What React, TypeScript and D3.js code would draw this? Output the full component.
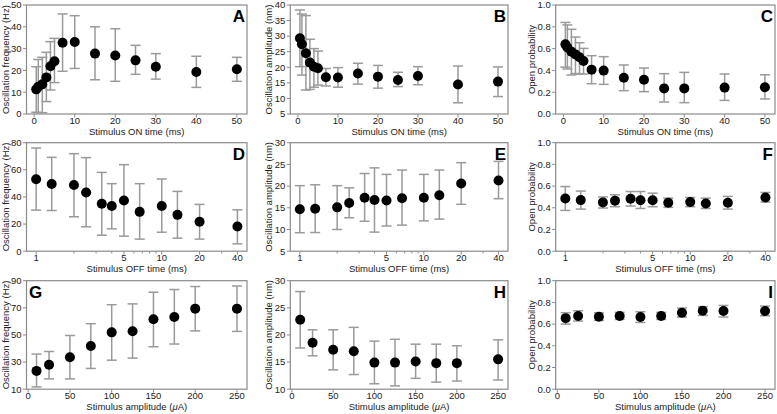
import React from "react";
import * as d3 from "d3";

// ---------- DATA ----------
const onTimes = [0.5, 1, 2, 3, 4, 5, 7, 10, 15, 20, 25, 30, 40, 50];
const freqOnMean = [11.3, 12.5, 13.6, 16.8, 21.9, 24.2, 32.7, 33, 27.7, 26.8, 24.6, 21.7, 19.3, 20.5];
const freqOnHi = [21.7, 25, 26, 28.3, 33.2, 34.7, 45.9, 45.1, 40, 39.1, 31.5, 27.7, 26.5, 26];
const freqOnLo = [0.8, 0.6, 0.6, 5.7, 11, 14.4, 19.6, 20.9, 15.7, 15, 18.2, 16, 12.2, 15];

const ampOnMean = [29.3, 27.4, 24.5, 21.5, 20.2, 19.7, 16.8, 16.7, 18, 17, 15.9, 17.2, 14.5, 15.4];
const ampOnHi = [38.4, 37.1, 36.6, 29, 26, 25.2, 19.6, 19.9, 21.3, 20.6, 18.4, 20.2, 20.4, 20.1];
const ampOnLo = [20.2, 17.5, 12.7, 12.9, 13.6, 14.3, 14, 13.6, 14.6, 13.3, 13.8, 14.4, 8.6, 10.6];

const poOnMean = [0.639, 0.61, 0.572, 0.547, 0.52, 0.486, 0.407, 0.398, 0.333, 0.315, 0.235, 0.235, 0.242, 0.245];
const poOnHi = [0.84, 0.817, 0.777, 0.706, 0.654, 0.602, 0.535, 0.526, 0.45, 0.422, 0.37, 0.382, 0.367, 0.36];
const poOnLo = [0.43, 0.413, 0.358, 0.371, 0.367, 0.367, 0.278, 0.272, 0.214, 0.205, 0.11, 0.104, 0.125, 0.138];

const offTimes = [1, 1.33, 2, 2.5, 3.33, 4, 5, 6.67, 10, 13.33, 20, 40];
const freqOffMean = [53, 49.5, 48.8, 43.3, 35, 33.3, 37.4, 29, 33.3, 26.8, 21.7, 18.2];
const freqOffHi = [76.1, 69.2, 71.9, 69, 58.1, 49.8, 63.8, 49.8, 53.2, 44.1, 34.5, 30.5];
const freqOffLo = [30.3, 30, 25.4, 18, 11.8, 16.5, 11.1, 8.9, 14, 9.6, 8.9, 5.4];

const ampOffMean = [14.67, 14.8, 15.1, 16.1, 17.3, 16.8, 16.7, 17.2, 17.3, 17.9, 20.6, 21.3];
const ampOffHi = [20.1, 20.3, 20.1, 19.6, 22.9, 24.2, 22.7, 23.7, 22.7, 23.7, 25.4, 25.7];
const ampOffLo = [9.26, 9.3, 10, 12.7, 11.9, 9.4, 10.8, 11, 12, 12.4, 15.8, 17.1];

const poOffMean = [0.486, 0.471, 0.45, 0.466, 0.483, 0.47, 0.47, 0.446, 0.453, 0.44, 0.446, 0.495];
const poOffHi = [0.596, 0.554, 0.5, 0.52, 0.55, 0.55, 0.535, 0.489, 0.495, 0.489, 0.505, 0.541];
const poOffLo = [0.376, 0.388, 0.398, 0.41, 0.416, 0.394, 0.41, 0.404, 0.41, 0.394, 0.388, 0.453];

const amps = [10, 25, 50, 75, 100, 125, 150, 175, 200, 250];
const freqAmpMean = [23.5, 28, 33.6, 41.8, 51.9, 52.7, 61.6, 63.3, 69.4, 69.4];
const freqAmpHi = [35.9, 37.8, 49.6, 58.3, 72.3, 72.9, 81.5, 83.5, 85.7, 86.1];
const freqAmpLo = [11.7, 17.6, 17.6, 25.3, 31.4, 32.9, 41.3, 43.3, 53, 52.6];

const ampAmpMean = [22.8, 18.55, 17.26, 17, 14.9, 14.9, 15.1, 14.8, 14.8, 15.5];
const ampAmpHi = [28, 20.95, 20.95, 21.4, 18.86, 19.2, 18.3, 18.3, 18, 19.1];
const ampAmpLo = [17.6, 16.15, 13.57, 12.7, 11, 10.6, 12, 11.3, 11.5, 11.7];

const poAmpMean = [0.655, 0.674, 0.668, 0.674, 0.665, 0.674, 0.705, 0.723, 0.72, 0.72];
const poAmpHi = [0.705, 0.723, 0.705, 0.708, 0.714, 0.708, 0.748, 0.76, 0.772, 0.766];
const poAmpLo = [0.6, 0.628, 0.634, 0.643, 0.615, 0.643, 0.665, 0.68, 0.665, 0.677];

const onTicks = [0, 10, 20, 30, 40, 50];
const offTickLabels = [1, 5, 10, 20, 40];
const offMinorTicks = [2, 3, 4, 6, 7, 8, 9, 30];
const ampTicks = [0, 50, 100, 150, 200, 250];

const freqTitle = "Oscillation frequency (Hz)";
const ampTitle = "Oscillation amplitude (nm)";
const poTitle = "Open probability";

// ---------- LAYOUT ----------
const FONT = "'Liberation Sans', Arial, Helvetica, sans-serif";
const cols = [
  { left: 26.5, width: 220.5, titleX: 8.5 },
  { left: 290.3, width: 217.7, titleX: 272 },
  { left: 555.7, width: 219.3, titleX: 534.5 },
];
const rows = [
  { top: 5, height: 109 },
  { top: 142.7, height: 108.5 },
  { top: 280.7, height: 108.5 },
];

type XKind = "on" | "off" | "amp";

interface PanelDef {
  letter: string;
  letterLeft?: boolean;
  col: number;
  row: number;
  xKind: XKind;
  xs: number[];
  mean: number[];
  hi: number[];
  lo: number[];
  yDomain: [number, number];
  yTicks: number[];
  yFmt: (v: number) => string;
  yTitle: string;
}

const intFmt = (v: number) => String(v);
const decFmt = d3.format(".1f");

const panels: PanelDef[] = [
  { letter: "A", col: 0, row: 0, xKind: "on", xs: onTimes, mean: freqOnMean, hi: freqOnHi, lo: freqOnLo, yDomain: [0, 50], yTicks: d3.range(0, 51, 10), yFmt: intFmt, yTitle: freqTitle },
  { letter: "B", col: 1, row: 0, xKind: "on", xs: onTimes, mean: ampOnMean, hi: ampOnHi, lo: ampOnLo, yDomain: [5, 40], yTicks: d3.range(5, 41, 5), yFmt: intFmt, yTitle: ampTitle },
  { letter: "C", col: 2, row: 0, xKind: "on", xs: onTimes, mean: poOnMean, hi: poOnHi, lo: poOnLo, yDomain: [0, 1], yTicks: [0, 0.2, 0.4, 0.6, 0.8, 1], yFmt: decFmt, yTitle: poTitle },
  { letter: "D", col: 0, row: 1, xKind: "off", xs: offTimes, mean: freqOffMean, hi: freqOffHi, lo: freqOffLo, yDomain: [0, 80], yTicks: d3.range(0, 81, 20), yFmt: intFmt, yTitle: freqTitle },
  { letter: "E", col: 1, row: 1, xKind: "off", xs: offTimes, mean: ampOffMean, hi: ampOffHi, lo: ampOffLo, yDomain: [5, 30], yTicks: d3.range(5, 31, 5), yFmt: intFmt, yTitle: ampTitle },
  { letter: "F", col: 2, row: 1, xKind: "off", xs: offTimes, mean: poOffMean, hi: poOffHi, lo: poOffLo, yDomain: [0, 1], yTicks: [0, 0.2, 0.4, 0.6, 0.8, 1], yFmt: decFmt, yTitle: poTitle },
  { letter: "G", letterLeft: true, col: 0, row: 2, xKind: "amp", xs: amps, mean: freqAmpMean, hi: freqAmpHi, lo: freqAmpLo, yDomain: [10, 90], yTicks: d3.range(10, 91, 20), yFmt: intFmt, yTitle: freqTitle },
  { letter: "H", col: 1, row: 2, xKind: "amp", xs: amps, mean: ampAmpMean, hi: ampAmpHi, lo: ampAmpLo, yDomain: [10, 30], yTicks: d3.range(10, 31, 5), yFmt: intFmt, yTitle: ampTitle },
  { letter: "I", col: 2, row: 2, xKind: "amp", xs: amps, mean: poAmpMean, hi: poAmpHi, lo: poAmpLo, yDomain: [0, 1], yTicks: [0, 0.2, 0.4, 0.6, 0.8, 1], yFmt: decFmt, yTitle: poTitle },
];

const FRAME = "#8a8a8a";
const ERR = "#9a9a9a";
const TXT = "#222";

function Panel({ p }: { p: PanelDef }) {
  const c = cols[p.col];
  const r = rows[p.row];
  const x0 = c.left, x1 = c.left + c.width;
  const y0 = r.top + r.height, y1 = r.top;

  let x: (v: number) => number;
  let majorTicks: number[];
  let minorTicks: number[] = [];
  let xTitle: React.ReactNode;
  if (p.xKind === "on") {
    x = d3.scaleLinear().domain([-1.9, 52.5]).range([x0, x1]);
    majorTicks = onTicks;
    xTitle = "Stimulus ON time (ms)";
  } else if (p.xKind === "off") {
    x = d3.scaleLog().domain([0.838, 47.7]).range([x0, x1]);
    majorTicks = offTickLabels;
    minorTicks = offMinorTicks;
    xTitle = "Stimulus OFF time (ms)";
  } else {
    x = d3.scaleLinear().domain([-2, 262]).range([x0, x1]);
    majorTicks = ampTicks;
    xTitle = (
      <>
        Stimulus amplitude (<tspan fontStyle="italic">μ</tspan>A)
      </>
    );
  }
  const y = d3.scaleLinear().domain(p.yDomain).range([y0, y1]);
  const cy = (y0 + y1) / 2;
  const cx = (x0 + x1) / 2;

  return (
    <g>
      {/* y ticks */}
      {p.yTicks.map((t) => (
        <g key={"y" + t}>
          <line x1={x0 - 3.5} x2={x0} y1={y(t)} y2={y(t)} stroke={FRAME} strokeWidth={1} />
          <text x={x0 - 5} y={y(t)} dy="0.35em" textAnchor="end" fontSize={9.5} fill={TXT} fontFamily={FONT}>
            {p.yFmt(t)}
          </text>
        </g>
      ))}
      {/* x ticks */}
      {majorTicks.map((t) => (
        <g key={"x" + t}>
          <line x1={x(t)} x2={x(t)} y1={y0} y2={y0 + 3.5} stroke={FRAME} strokeWidth={1} />
          <text x={x(t)} y={y0 + 10} textAnchor="middle" fontSize={9.5} fill={TXT} fontFamily={FONT}>
            {t}
          </text>
        </g>
      ))}
      {minorTicks.map((t) => (
        <line key={"m" + t} x1={x(t)} x2={x(t)} y1={y0} y2={y0 + 2.2} stroke={FRAME} strokeWidth={1} />
      ))}
      {/* frame */}
      <rect x={x0} y={y1} width={x1 - x0} height={y0 - y1} fill="none" stroke={FRAME} strokeWidth={1.2} />
      {/* titles */}
      <text x={cx} y={y0 + 21} textAnchor="middle" fontSize={9.5} fill={TXT} fontFamily={FONT}>
        {xTitle}
      </text>
      <text
        transform={`translate(${c.titleX},${cy}) rotate(-90)`}
        textAnchor="middle"
        fontSize={9.5}
        fill={TXT}
        fontFamily={FONT}
      >
        {p.yTitle}
      </text>
      {/* error bars */}
      {p.xs.map((xv, i) => {
        const px = x(xv);
        return (
          <g key={"e" + i} stroke={ERR} strokeWidth={1.5} fill="none">
            <line x1={px} x2={px} y1={y(p.hi[i])} y2={y(p.lo[i])} />
            <line x1={px - 5} x2={px + 5} y1={y(p.hi[i])} y2={y(p.hi[i])} />
            <line x1={px - 5} x2={px + 5} y1={y(p.lo[i])} y2={y(p.lo[i])} />
          </g>
        );
      })}
      {/* points */}
      {p.xs.map((xv, i) => (
        <circle key={"c" + i} cx={x(xv)} cy={y(p.mean[i])} r={5} fill="#000" />
      ))}
      {/* panel letter */}
      <text
        x={p.letterLeft ? x0 + 2.5 : x1 - 2}
        y={y1 + 17}
        textAnchor={p.letterLeft ? "start" : "end"}
        fontSize={17}
        fontWeight="bold"
        fill="#000"
        fontFamily={FONT}
      >
        {p.letter}
      </text>
    </g>
  );
}

export default function App() {
  return (
    <svg
      width={777}
      height={414}
      viewBox="0 0 777 414"
      style={{ position: "absolute", left: 0, top: 0, background: "#fff" }}
    >
      <rect x={0} y={0} width={777} height={414} fill="#fff" />
      {panels.map((p) => (
        <Panel key={p.letter} p={p} />
      ))}
    </svg>
  );
}
